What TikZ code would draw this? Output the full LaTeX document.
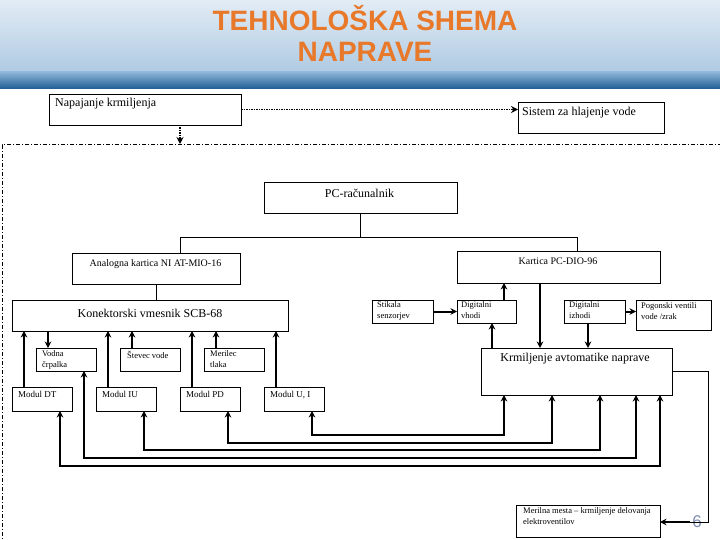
\documentclass[tikz,border=0pt]{standalone}
\usepackage{fontspec}
\setmainfont{Liberation Serif}
\newfontfamily\titlefont{Liberation Sans}
\usetikzlibrary{arrows.meta}
\definecolor{titleorange}{HTML}{E8782A}
\definecolor{hdtop}{HTML}{E2ECF5}
\definecolor{hdmid}{HTML}{AFCAE2}
\definecolor{hdband}{HTML}{8DB6D8}
\definecolor{hddark}{HTML}{1F5C94}
\definecolor{pagecol}{HTML}{7F8DB0}
\newcommand\boxat[5]{\node[box,minimum width=#4pt,minimum height=#5pt] (#1) at (#2,#3) {};}
\begin{document}
\begin{tikzpicture}[x=1pt,y=-1pt,
  box/.style={draw, line width=0.8pt, fill=white, inner sep=0pt, outer sep=0pt},
  link/.style={line width=1pt},
  arr/.style={line width=2pt, -{Stealth[length=6.5pt,width=6.5pt]}},
  barr/.style={line width=1.6pt, {Stealth[length=6.5pt,width=6.5pt]}-{Stealth[length=6.5pt,width=6.5pt]}},
  dotarr/.style={line width=1.5pt, densely dotted, -{Stealth[length=7pt,width=7pt]}},
  frameline/.style={line width=1pt, dash pattern=on 4pt off 2pt on 1pt off 2pt},
  big/.style={inner sep=0pt, font=\fontsize{12}{14}\selectfont},
  mid/.style={inner sep=0pt, font=\fontsize{10}{12}\selectfont},
  small/.style={inner sep=0pt, anchor=north west, align=left, font=\fontsize{8.5}{10.5}\selectfont},
  modtext/.style={inner sep=0pt, anchor=north west, font=\fontsize{9}{11}\selectfont},
  titletext/.style={inner sep=0pt, anchor=base, text=titleorange, font=\titlefont\bfseries\fontsize{28}{30}\selectfont},
]
\useasboundingbox (0,0) rectangle (720,540);
% header
\shade[top color=hdtop, bottom color=hdmid] (0,0) rectangle (720,72);
\shade[top color=hdband, bottom color=hddark] (0,72) rectangle (720,89);
\node[titletext] (t1) at (365,31) {TEHNOLOŠKA SHEMA};
\node[titletext] (t2) at (365,62) {NAPRAVE};

% outer frame
\draw[frameline] (722,145) -- (2,145) -- (2,542);

% boxes
\boxat{nap}{145}{109.5}{192}{31}
\boxat{sis}{591}{117.5}{146}{31}
\boxat{pc}{360.5}{197.5}{193}{31}
\boxat{ana}{156}{268.5}{168}{31}
\boxat{kar}{558.5}{267}{203}{32}
\boxat{kon}{150}{315.5}{276}{31}
\boxat{sti}{402.5}{311.5}{61}{23}
\boxat{dvh}{486.5}{311.5}{59}{23}
\boxat{diz}{594.5}{311.5}{61}{23}
\boxat{pog}{673.5}{315}{75}{30}
\boxat{krm}{576.5}{371.5}{191}{47}
\boxat{vod}{66}{359.5}{60}{23}
\boxat{ste}{150}{359.5}{60}{23}
\boxat{mer}{234}{359.5}{60}{23}
\boxat{mdt}{42}{399}{60}{24}
\boxat{miu}{126}{399}{60}{24}
\boxat{mpd}{210}{399}{60}{24}
\boxat{mui}{294}{399}{60}{24}
\boxat{mm}{588}{521}{144}{32}

% texts
\node[big, anchor=west] (napT) at (55,104) {Napajanje krmiljenja};
\node[big, anchor=west] (sisT) at (522,113) {Sistem za hlajenje vode};
\node[big] (pcT) at (359.5,193) {PC-računalnik};
\node[mid] (anaT) at (155.5,264) {Analogna kartica NI AT-MIO-16};
\node[mid] (karT) at (558,261) {Kartica PC-DIO-96};
\node[big] (konT) at (150,313) {Konektorski vmesnik SCB-68};
\node[big] (krmT) at (575,359) {Krmiljenje avtomatike naprave};
\node[small] (stiT) at (377,301.5) {Stikala\\senzorjev};
\node[small] (dvhT) at (461,301.5) {Digitalni\\vhodi};
\node[small] (dizT) at (569,301.5) {Digitalni\\izhodi};
\node[small] (pogT) at (641,302.5) {Pogonski ventili\\vode /zrak};
\node[small] (vodT) at (42,350.5) {Vodna\\črpalka};
\node[small] (steT) at (127,350.5) {Števec vode};
\node[small] (merT) at (210,350.5) {Merilec\\tlaka};
\node[modtext] (mdtT) at (18,391.5) {Modul DT};
\node[modtext] (miuT) at (102,391.5) {Modul IU};
\node[modtext] (mpdT) at (186,391.5) {Modul PD};
\node[modtext] (muiT) at (270,391.5) {Modul U, I};
\node[small] (mmT) at (523,507.5) {Merilna mesta -- krmiljenje delovanja\\elektroventilov};
\node[inner sep=0pt, text=pagecol, font=\titlefont\fontsize{17}{17}\selectfont] (pnum) at (697,522) {6};

% dotted connectors
\coordinate (ftop) at (180,144);
\draw[dotarr] (nap.east) -- (nap.east -| sis.west);
\draw[dotarr] (nap.south -| ftop) -- (ftop);

% PC bus
\coordinate (busL) at (180,237);
\coordinate (busR) at (577,237);
\draw[link] (pc.south) -- (pc.south |- busL);
\draw[link] (ana.north -| busL) -- (busL) -- (busR) -- (kar.north -| busR);
\draw[link] (ana.south) -- (kon.north -| ana.south);

% digital section
\draw[arr] (sti.east) -- (dvh.west);
\draw[arr] (dvh.north -| 504,0) -- (kar.south -| 504,0);
\draw[arr] (kar.south -| 540,0) -- (krm.north -| 540,0);
\draw[arr] (diz.south -| 588,0) -- (krm.north -| 588,0);
\draw[arr] (krm.north -| 492,0) -- (dvh.south -| 492,0);
\draw[arr] (diz.east) -- (pog.west |- diz.east);

% krmiljenje to merilna mesta
\draw[link] (krm.east |- 0,371) -- (708,371) -- (708,522) -- (690,522);
\draw[arr] (690,522) -- (mm.east |- 0,522);

% connector board links
\draw[arr] (mdt.north -| 24,0) -- (kon.south -| 24,0);
\draw[arr] (kon.south -| 48,0) -- (vod.north -| 48,0);
\draw[arr] (miu.north -| 108,0) -- (kon.south -| 108,0);
\draw[arr] (ste.north -| 132,0) -- (kon.south -| 132,0);
\draw[arr] (mpd.north -| 192,0) -- (kon.south -| 192,0);
\draw[arr] (mer.north -| 216,0) -- (kon.south -| 216,0);
\draw[arr] (mui.north -| 276,0) -- (kon.south -| 276,0);

% bottom bus lines
\draw[barr] (mui.south -| 312,0) -- (312,435) -- (504,435) -- (krm.south -| 504,0);
\draw[barr] (mpd.south -| 228,0) -- (228,443) -- (552,443) -- (krm.south -| 552,0);
\draw[barr] (miu.south -| 144,0) -- (144,450) -- (600,450) -- (krm.south -| 600,0);
\draw[barr] (vod.south -| 84,0) -- (84,458) -- (636,458) -- (krm.south -| 636,0);
\draw[barr] (mdt.south -| 60,0) -- (60,466) -- (660,466) -- (krm.south -| 660,0);
\end{tikzpicture}
\end{document}
